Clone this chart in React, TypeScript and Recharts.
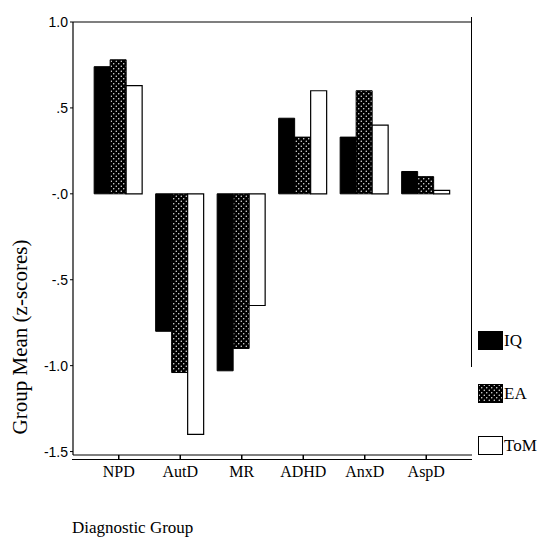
import { BarChart, Bar, XAxis, YAxis, ReferenceLine } from 'recharts';

const categories = ['NPD', 'AutD', 'MR', 'ADHD', 'AnxD', 'AspD'];
const iqValues = [0.74, -0.8, -1.03, 0.44, 0.33, 0.13];
const eaValues = [0.78, -1.04, -0.9, 0.33, 0.6, 0.1];
const tomValues = [0.63, -1.4, -0.65, 0.6, 0.4, 0.02];
const yTicks = [-1.5, -1, -0.5, 0, 0.5, 1];
const yTickLabels = ['-1.5', '-1.0', '-.5', '-.0', '.5', '1.0'];

const data = categories.map((group, i) => ({
  group,
  IQ: iqValues[i],
  EA: eaValues[i],
  ToM: tomValues[i],
}));

const SERIF = '"Liberation Serif", "Times New Roman", serif';
const SANS = '"Liberation Sans", Arial, sans-serif';

const legendItems = [
  { name: 'IQ', fill: '#000' },
  { name: 'EA', fill: 'url(#dots)' },
  { name: 'ToM', fill: '#fff' },
];

function DotPattern() {
  return (
    <svg width={0} height={0} style={{ position: 'absolute' }}>
      <defs>
        <pattern id="dots" width={5} height={5} patternUnits="userSpaceOnUse">
          <rect width={5} height={5} fill="#000" />
          <circle cx={1.25} cy={1.25} r={0.7} fill="#fff" />
          <circle cx={3.75} cy={3.75} r={0.7} fill="#fff" />
        </pattern>
      </defs>
    </svg>
  );
}

function Legendish() {
  return (
    <div style={{ position: 'absolute', left: 478, top: 331 }}>
      {legendItems.map((item, i) => (
        <div
          key={item.name}
          style={{ position: 'absolute', top: i * 52.5, left: 0, display: 'flex', alignItems: 'center', whiteSpace: 'nowrap' }}
        >
          <svg width={25} height={19}>
            <rect x={0.5} y={0.5} width={24} height={18} fill={item.fill} stroke="#000" strokeWidth={1} />
          </svg>
          <span style={{ fontFamily: SERIF, fontSize: 17, marginLeft: 1, lineHeight: 1 }}>{item.name}</span>
        </div>
      ))}
    </div>
  );
}

export default function App() {
  return (
    <div style={{ position: 'relative', width: 539, height: 537, background: '#fff', overflow: 'hidden' }}>
      <style>{'body{margin:0}'}</style>
      <DotPattern />
      <BarChart
        width={539}
        height={537}
        data={data}
        margin={{ top: 22, right: 67, left: 0, bottom: 52 }}
        barCategoryGap="10%"
        barGap={0}
      >
        <XAxis
          dataKey="group"
          padding={{ left: 15, right: 15 }}
          height={30}
          axisLine={{ stroke: '#000', strokeWidth: 1.2 }}
          tickLine={{ stroke: '#000', strokeWidth: 1.5 }}
          tickSize={4}
          tickMargin={7}
          tick={{ fill: '#000', fontSize: 16, fontFamily: SERIF }}
          interval={0}
        />
        <YAxis
          type="number"
          domain={[-1.52, 1]}
          ticks={yTicks}
          interval={0}
          width={73}
          tickSize={3}
          tickMargin={2}
          axisLine={{ stroke: '#000', strokeWidth: 1.2 }}
          tickLine={{ stroke: '#000' }}
          tick={{ fill: '#000', fontSize: 14, fontFamily: SANS }}
          tickFormatter={(v: number) => yTickLabels[yTicks.indexOf(v)] ?? String(v)}
        />
        <ReferenceLine y={1} stroke="#000" strokeWidth={1.2} />
        <Bar dataKey="IQ" fill="#000" stroke="#000" strokeWidth={1} isAnimationActive={false} />
        <Bar dataKey="EA" fill="url(#dots)" stroke="#000" strokeWidth={1} isAnimationActive={false} />
        <Bar dataKey="ToM" fill="#fff" stroke="#000" strokeWidth={1.2} isAnimationActive={false} />
      </BarChart>
      {/* frame: right edge and the doubled bottom rule */}
      <div style={{ position: 'absolute', left: 471, top: 17, width: 1.3, height: 350, background: '#000' }} />
      <div style={{ position: 'absolute', left: 72, top: 459, width: 400, height: 1.2, background: '#000' }} />
      <div
        style={{
          position: 'absolute',
          left: 20,
          top: 337,
          transform: 'translate(-50%, -50%) rotate(-90deg)',
          fontFamily: SERIF,
          fontSize: 21,
          whiteSpace: 'nowrap',
          lineHeight: 1,
        }}
      >
        Group Mean (z-scores)
      </div>
      <div style={{ position: 'absolute', left: 72, top: 519, fontFamily: SERIF, fontSize: 17, lineHeight: 1, whiteSpace: 'nowrap' }}>
        Diagnostic Group
      </div>
      <Legendish />
    </div>
  );
}
